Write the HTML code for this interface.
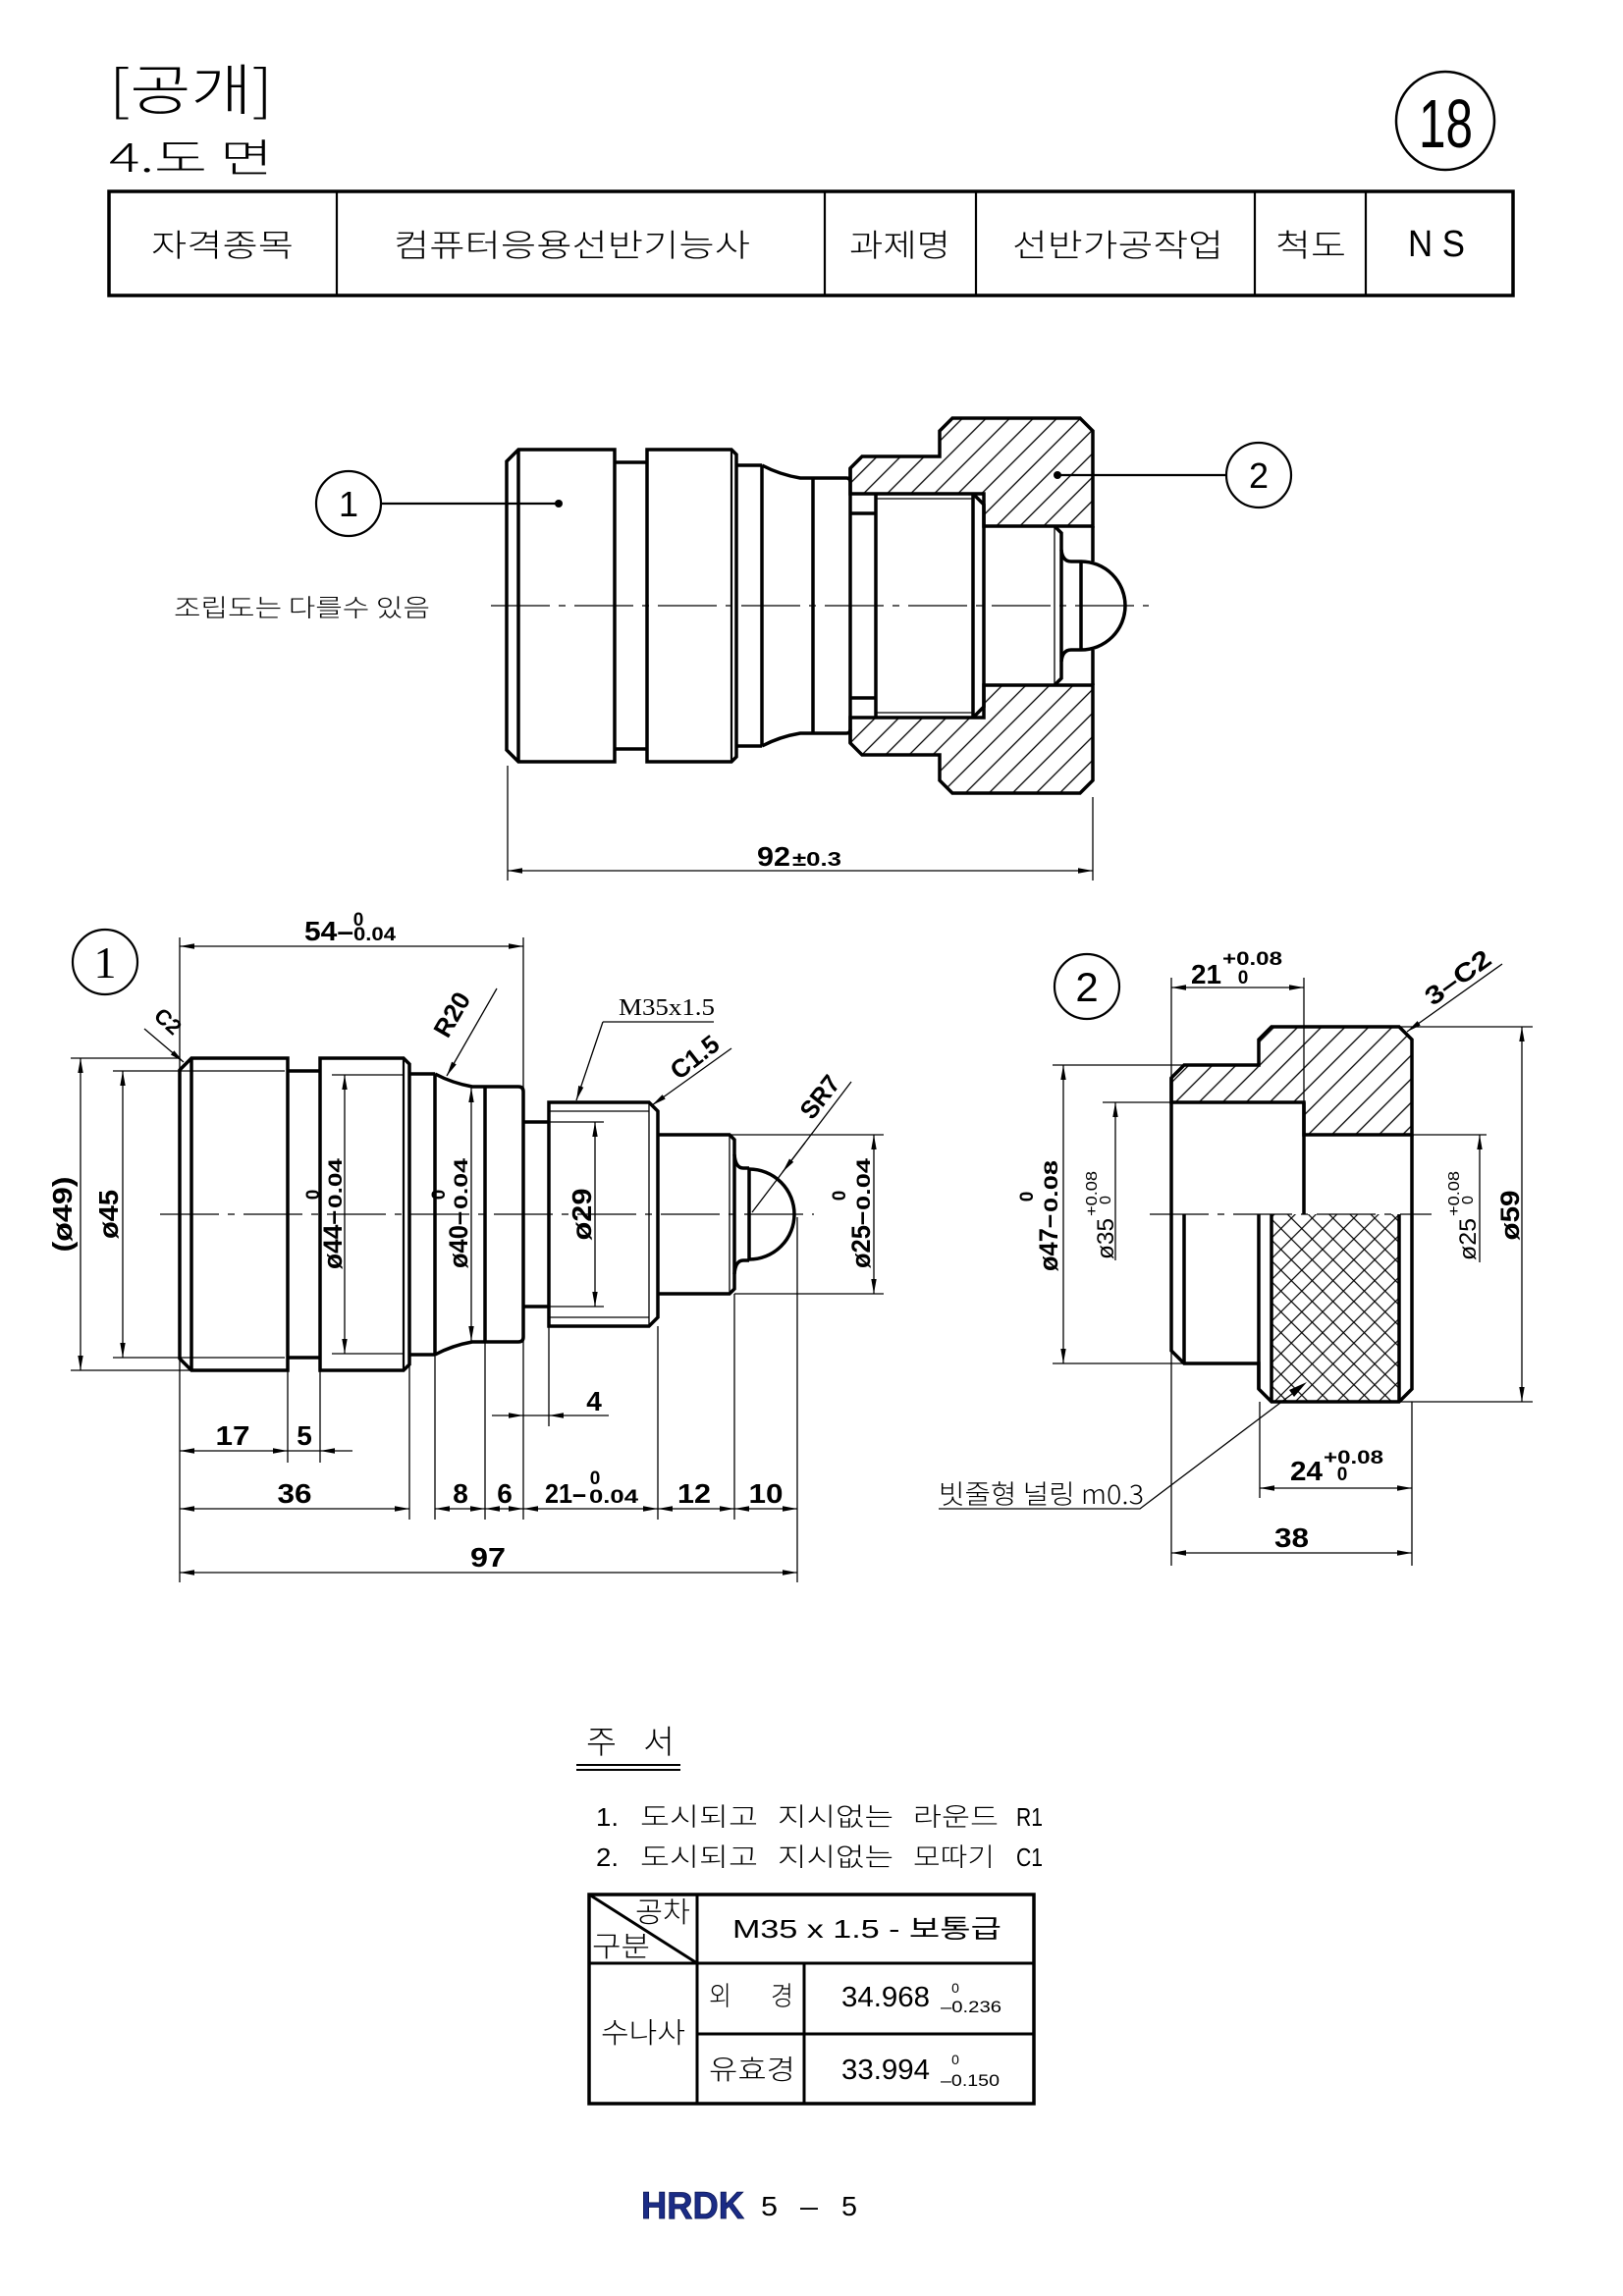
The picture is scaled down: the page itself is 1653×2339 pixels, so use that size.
<!DOCTYPE html>
<html><head><meta charset="utf-8"><style>
html,body{margin:0;padding:0;background:#fff}
svg{display:block}
</style></head><body>
<svg xmlns="http://www.w3.org/2000/svg" width="1653" height="2339" viewBox="0 0 1653 2339">
<defs>
<marker id="a" markerUnits="userSpaceOnUse" markerWidth="16" markerHeight="8" refX="15" refY="4" orient="auto-start-reverse" viewBox="0 0 16 8"><path d="M0,1.3 L15,4 L0,6.7 Z" fill="#000"/></marker>
<pattern id="h" patternUnits="userSpaceOnUse" width="17" height="17" patternTransform="rotate(45)"><line x1="8.5" y1="0" x2="8.5" y2="17" stroke="#000" stroke-width="1.3"/></pattern>
<pattern id="kn" patternUnits="userSpaceOnUse" width="15" height="15" patternTransform="rotate(45)"><line x1="7.5" y1="0" x2="7.5" y2="15" stroke="#000" stroke-width="1.2"/><line x1="0" y1="7.5" x2="15" y2="7.5" stroke="#000" stroke-width="1.2"/></pattern>
</defs>
<style>
.t{fill:none;stroke:#000;stroke-width:3.5}
.th{fill:url(#h);stroke:#000;stroke-width:3.5}
.n{fill:none;stroke:#000;stroke-width:1.3}
.m{fill:none;stroke:#000;stroke-width:2.2}
.d{fill:none;stroke:#000;stroke-width:1.3;marker-start:url(#a);marker-end:url(#a)}
.e{fill:none;stroke:#000;stroke-width:1.3;marker-end:url(#a)}
.c{fill:none;stroke:#000;stroke-width:1.2;stroke-dasharray:60 9 7 9}
text{font-family:"Liberation Sans","Noto Sans CJK KR",sans-serif;fill:#000}
.k{font-family:"Noto Sans CJK KR","Liberation Sans",sans-serif;font-weight:300}
.b{font-weight:bold}
.s{font-family:"Liberation Serif","Noto Serif CJK SC",serif}
</style>
<rect width="1653" height="2339" fill="#fff"/>

<!-- HEADER -->
<text class="k" x="111" y="112" font-size="56" textLength="167" lengthAdjust="spacingAndGlyphs">[공개]</text>
<text class="k" x="111" y="175" font-size="40" textLength="167" lengthAdjust="spacingAndGlyphs">4.도 면</text>
<circle cx="1472" cy="123" r="50" fill="none" stroke="#000" stroke-width="2.5"/>
<text x="1445" y="150" font-size="70" textLength="55" lengthAdjust="spacingAndGlyphs">18</text>
<rect x="111" y="195" width="1430" height="106" class="t"/>
<path class="m" stroke-width="2.5" d="M343,195V301M840,195V301M994,195V301M1278,195V301M1391,195V301"/>
<g font-size="32">
<text class="k" x="154" y="261" textLength="145" lengthAdjust="spacingAndGlyphs">자격종목</text>
<text class="k" x="401" y="261" textLength="363" lengthAdjust="spacingAndGlyphs">컴퓨터응용선반기능사</text>
<text class="k" x="865" y="261" textLength="103" lengthAdjust="spacingAndGlyphs">과제명</text>
<text class="k" x="1031" y="261" textLength="215" lengthAdjust="spacingAndGlyphs">선반가공작업</text>
<text class="k" x="1299" y="261" textLength="72" lengthAdjust="spacingAndGlyphs">척도</text>
</g>
<text x="1434" y="261" font-size="38" textLength="58" lengthAdjust="spacingAndGlyphs">N S</text>

<!-- ASSEMBLY -->
<path class="t" d="M528,458 L626,458 L626,776 L528,776 L516,764 L516,470 Z"/>
<line class="t" x1="528" y1="458" x2="528" y2="776"/>
<path class="t" d="M626,471 H659 M626,763 H659"/>
<path class="t" d="M659,458 H745 L750,463 V771 L745,776 H659 Z"/>
<line class="m" x1="745" y1="458" x2="745" y2="776"/>
<path class="t" d="M750,474 H776 M750,760 H776 M776,474 V760"/>
<path class="t" d="M776,474 A130,130 0 0 0 815,487 H828 M776,760 A130,130 0 0 1 815,747 H828 M828,487 V747"/>
<path class="t" d="M828,487 H862 Q866,487 866,491 M828,747 H862 Q866,747 866,743"/>
<path class="th" d="M866,477 L878,465 H957 V439 L970,426 H1100 L1113,439 V536 H1002 V503 H866 Z"/>
<path class="th" d="M866,757 L878,769 H957 V795 L970,808 H1100 L1113,795 V698 H1002 V731 H866 Z"/>
<path class="t" d="M866,477 V757"/>
<path class="t" d="M866,523 H892 M866,711 H892 M892,503 V731"/>
<path class="n" d="M892,508 H991 M892,726 H991"/>
<path class="t" d="M991,503 V731 M991,503 L1002,514 V720 L991,731"/>
<path class="n" d="M1074,536 V698"/>
<path class="t" d="M1074,536 L1081,543 V691 L1074,698"/>
<path class="t" d="M1081,560 Q1082,572 1091,572 H1101 M1081,674 Q1082,662 1091,662 H1101"/>
<path class="t" d="M1101,572 V662 M1101,572 A45,45 0 0 1 1101,662"/>
<path class="t" d="M1113,536 V572 M1113,662 V698"/>
<line class="c" x1="500" y1="617" x2="1170" y2="617"/>
<circle cx="355" cy="513" r="33" class="m"/>
<text x="355" y="526" font-size="36" text-anchor="middle">1</text>
<line class="m" x1="388" y1="513" x2="569" y2="513"/>
<circle cx="569" cy="513" r="4" fill="#000"/>
<circle cx="1282" cy="484" r="33" class="m"/>
<text x="1282" y="497" font-size="36" text-anchor="middle">2</text>
<line class="m" x1="1077" y1="484" x2="1249" y2="484"/>
<circle cx="1077" cy="484" r="4" fill="#000"/>
<text class="k" x="177" y="628" font-size="25" textLength="261" lengthAdjust="spacingAndGlyphs">조립도는 다를수 있음</text>
<line class="n" x1="517" y1="780" x2="517" y2="897"/>
<line class="n" x1="1113" y1="812" x2="1113" y2="897"/>
<line class="d" x1="517" y1="887" x2="1113" y2="887"/>
<text class="b" x="771" y="882" font-size="28" textLength="34" lengthAdjust="spacingAndGlyphs">92</text>
<text class="b" x="807" y="882" font-size="20" textLength="50" lengthAdjust="spacingAndGlyphs">±0.3</text>

<!-- PART 1 -->
<circle cx="107" cy="980" r="33" class="m"/>
<text class="s" x="107" y="996" font-size="46" text-anchor="middle">1</text>
<path class="t" d="M195,1078 L293,1078 L293,1396 L195,1396 L183,1384 L183,1090 Z"/>
<line class="t" x1="195" y1="1078" x2="195" y2="1396"/>
<path class="t" d="M293,1091 H326 M293,1383 H326"/>
<path class="t" d="M326,1078 H411 L417,1084 V1390 L411,1396 H326 Z"/>
<line class="m" x1="411" y1="1078" x2="411" y2="1396"/>
<path class="t" d="M417,1094 H443 M417,1380 H443 M443,1094 V1380"/>
<path class="t" d="M443,1094 A130,130 0 0 0 481,1107 H494 M443,1380 A130,130 0 0 1 481,1367 H494 M494,1107 V1367"/>
<path class="t" d="M494,1107 H528 Q533,1107 533,1112 V1362 Q533,1367 528,1367 H494"/>
<path class="t" d="M533,1143 H559 M533,1331 H559"/>
<path class="t" d="M559,1123 H661 L670,1132 V1342 L661,1351 H559 Z"/>
<path class="n" d="M559,1132 H661 M559,1342 H661 M661,1123 V1351"/>
<path class="t" d="M670,1156 H743 L748,1161 V1313 L743,1318 H670"/>
<line class="n" x1="743" y1="1156" x2="743" y2="1318"/>
<path class="t" d="M748,1176 Q749,1190 757,1190 H763 M748,1298 Q749,1284 757,1284 H763"/>
<path class="t" d="M763,1191 V1283 M763,1191 A46,46 0 1 1 763,1283"/>
<line class="c" x1="163" y1="1237" x2="829" y2="1237"/>
<!-- part1 dims -->
<path class="n" d="M72,1078 H183 M72,1396 H195 M115,1091 H290 M115,1383 H290 M338,1095 H411 M338,1379 H411 M559,1143 H615 M559,1331 H615 M743,1156 H900 M748,1318 H900"/>
<line class="d" x1="82" y1="1078" x2="82" y2="1396"/>
<line class="d" x1="125" y1="1091" x2="125" y2="1383"/>
<line class="d" x1="351" y1="1095" x2="351" y2="1379"/>
<line class="d" x1="480" y1="1108" x2="480" y2="1366"/>
<line class="d" x1="606" y1="1143" x2="606" y2="1331"/>
<line class="d" x1="890" y1="1156" x2="890" y2="1318"/>
<text class="b" font-size="28" text-anchor="middle" textLength="77" lengthAdjust="spacingAndGlyphs" transform="translate(73,1237) rotate(-90)">(ø49)</text>
<text class="b" font-size="28" text-anchor="middle" textLength="50" lengthAdjust="spacingAndGlyphs" transform="translate(120,1237) rotate(-90)">ø45</text>
<text class="b" font-size="28" text-anchor="middle" textLength="53" lengthAdjust="spacingAndGlyphs" transform="translate(602,1237) rotate(-90)">ø29</text>
<g transform="translate(348,1237) rotate(-90)">
<text class="b" x="-56" y="0" font-size="27" textLength="60" lengthAdjust="spacingAndGlyphs">ø44–</text>
<text class="b" x="6" y="0" font-size="19" textLength="51" lengthAdjust="spacingAndGlyphs">0.04</text>
<text class="b" x="20" y="-23" font-size="19" text-anchor="middle">0</text>
</g>
<g transform="translate(476,1237) rotate(-90)">
<text class="b" x="-55" y="0" font-size="27" textLength="58" lengthAdjust="spacingAndGlyphs">ø40–</text>
<text class="b" x="5" y="0" font-size="19" textLength="52" lengthAdjust="spacingAndGlyphs">0.04</text>
<text class="b" x="20" y="-23" font-size="19" text-anchor="middle">0</text>
</g>
<g transform="translate(886,1237) rotate(-90)">
<text class="b" x="-55" y="0" font-size="27" textLength="58" lengthAdjust="spacingAndGlyphs">ø25–</text>
<text class="b" x="4" y="0" font-size="19" textLength="53" lengthAdjust="spacingAndGlyphs">0.04</text>
<text class="b" x="19" y="-25" font-size="19" text-anchor="middle">0</text>
</g>
<!-- 54 -->
<path class="n" d="M183,955 V1612 M533,955 V1548"/>
<line class="d" x1="183" y1="964" x2="533" y2="964"/>
<text class="b" x="310" y="958" font-size="28" textLength="50" lengthAdjust="spacingAndGlyphs">54–</text>
<text class="b" x="360" y="958" font-size="19" textLength="43" lengthAdjust="spacingAndGlyphs">0.04</text>
<text class="b" x="365" y="943" font-size="19" text-anchor="middle">0</text>
<!-- C2 -->
<line class="e" x1="147" y1="1048" x2="187" y2="1082"/>
<text class="b" font-size="22" text-anchor="middle" transform="translate(166,1046) rotate(42)">C2</text>
<!-- R20 -->
<line class="e" x1="506" y1="1007" x2="455" y2="1096"/>
<text class="b" font-size="26" text-anchor="middle" textLength="48" lengthAdjust="spacingAndGlyphs" transform="translate(468,1038) rotate(-60)">R20</text>
<!-- M35 -->
<text class="s" x="630" y="1034" font-size="24" textLength="98" lengthAdjust="spacingAndGlyphs">M35x1.5</text>
<path class="n" d="M727,1041 H614"/>
<line class="e" x1="614" y1="1041" x2="587" y2="1121"/>
<!-- C1.5 -->
<line class="e" x1="745" y1="1068" x2="664" y2="1126"/>
<text class="b" font-size="26" text-anchor="middle" textLength="55" lengthAdjust="spacingAndGlyphs" transform="translate(713,1084) rotate(-38)">C1.5</text>
<!-- SR7 -->
<line class="n" x1="867" y1="1102" x2="766" y2="1235"/>
<line class="e" x1="820" y1="1164" x2="797" y2="1194"/>
<text class="b" font-size="26" text-anchor="middle" textLength="48" lengthAdjust="spacingAndGlyphs" transform="translate(842,1123) rotate(-52)">SR7</text>
<!-- lower dims part1 -->
<path class="n" d="M293,1396 V1490 M326,1396 V1490 M417,1390 V1548 M443,1380 V1548 M494,1367 V1548 M559,1331 V1453 M670,1351 V1548 M748,1318 V1548 M812,1240 V1612"/>
<line class="d" x1="183" y1="1478" x2="293" y2="1478"/>
<line class="n" x1="293" y1="1478" x2="326" y2="1478"/>
<line class="e" x1="359" y1="1478" x2="326" y2="1478"/>
<text class="b" x="237" y="1472" font-size="28" text-anchor="middle" textLength="35" lengthAdjust="spacingAndGlyphs">17</text>
<text class="b" x="310" y="1472" font-size="28" text-anchor="middle">5</text>
<line class="e" x1="501" y1="1442" x2="533" y2="1442"/>
<line class="n" x1="533" y1="1442" x2="559" y2="1442"/>
<line class="e" x1="620" y1="1442" x2="559" y2="1442"/>
<text class="b" x="605" y="1437" font-size="28" text-anchor="middle">4</text>
<line class="d" x1="183" y1="1537" x2="417" y2="1537"/>
<line class="d" x1="443" y1="1537" x2="494" y2="1537"/>
<line class="d" x1="494" y1="1537" x2="533" y2="1537"/>
<line class="d" x1="533" y1="1537" x2="670" y2="1537"/>
<line class="d" x1="670" y1="1537" x2="748" y2="1537"/>
<line class="d" x1="748" y1="1537" x2="812" y2="1537"/>
<text class="b" x="300" y="1531" font-size="28" text-anchor="middle" textLength="35" lengthAdjust="spacingAndGlyphs">36</text>
<text class="b" x="469" y="1531" font-size="28" text-anchor="middle">8</text>
<text class="b" x="514" y="1531" font-size="28" text-anchor="middle">6</text>
<text class="b" x="555" y="1531" font-size="28" textLength="42" lengthAdjust="spacingAndGlyphs">21–</text>
<text class="b" x="600" y="1531" font-size="19" textLength="50" lengthAdjust="spacingAndGlyphs">0.04</text>
<text class="b" x="606" y="1512" font-size="19" text-anchor="middle">0</text>
<text class="b" x="707" y="1531" font-size="28" text-anchor="middle" textLength="34" lengthAdjust="spacingAndGlyphs">12</text>
<text class="b" x="780" y="1531" font-size="28" text-anchor="middle" textLength="35" lengthAdjust="spacingAndGlyphs">10</text>
<line class="d" x1="183" y1="1602" x2="812" y2="1602"/>
<text class="b" x="497" y="1596" font-size="28" text-anchor="middle" textLength="36" lengthAdjust="spacingAndGlyphs">97</text>

<!-- PART 2 -->
<circle cx="1107" cy="1005" r="33" class="m"/>
<text x="1107" y="1020" font-size="42" text-anchor="middle">2</text>
<rect x="1295" y="1237" width="130" height="191" fill="url(#kn)"/>
<path class="th" d="M1193,1098 L1206,1085 H1282 V1059 L1295,1046 H1425 L1438,1059 V1156 H1328 V1123 H1193 Z"/>
<path class="t" d="M1193,1098 V1376 L1206,1389 H1282 V1415 L1295,1428 H1425 L1438,1415 V1156"/>
<path class="t" d="M1328,1123 V1237 M1206,1237 V1389 M1282,1237 V1415 M1295,1237 V1428 M1425,1237 V1428"/>
<line class="c" x1="1171" y1="1237" x2="1458" y2="1237"/>
<!-- part2 dims -->
<path class="n" d="M1193,996 V1595 M1328,996 V1123 M1072,1085 H1206 M1072,1389 H1206 M1123,1123 H1193 M1438,1156 H1514 M1425,1046 H1561 M1425,1428 H1561 M1283,1428 V1526 M1438,1428 V1595"/>
<line class="d" x1="1193" y1="1006" x2="1328" y2="1006"/>
<text class="b" x="1213" y="1002" font-size="28" textLength="31" lengthAdjust="spacingAndGlyphs">21</text>
<text class="b" x="1245" y="983" font-size="19" textLength="61" lengthAdjust="spacingAndGlyphs">+0.08</text>
<text class="b" x="1266" y="1002" font-size="19" text-anchor="middle">0</text>
<line class="e" x1="1530" y1="982" x2="1433" y2="1051"/>
<text class="b" font-size="26" text-anchor="middle" textLength="76" lengthAdjust="spacingAndGlyphs" transform="translate(1490,1003) rotate(-36)">3–C2</text>
<line class="d" x1="1083" y1="1085" x2="1083" y2="1389"/>
<g transform="translate(1077,1237) rotate(-90)">
<text class="b" x="-58" y="0" font-size="27" textLength="58" lengthAdjust="spacingAndGlyphs">ø47–</text>
<text class="b" x="2" y="0" font-size="19" textLength="53" lengthAdjust="spacingAndGlyphs">0.08</text>
<text class="b" x="18" y="-25" font-size="19" text-anchor="middle">0</text>
</g>
<line class="e" x1="1136" y1="1284" x2="1136" y2="1123"/>
<g transform="translate(1134,1237) rotate(-90)">
<text x="-46" y="0" font-size="24" textLength="42" lengthAdjust="spacingAndGlyphs">ø35</text>
<text x="-2" y="-17" font-size="16" textLength="46" lengthAdjust="spacingAndGlyphs">+0.08</text>
<text x="10" y="-3" font-size="16">0</text>
</g>
<line class="e" x1="1507" y1="1286" x2="1507" y2="1156"/>
<g transform="translate(1503,1237) rotate(-90)">
<text x="-47" y="0" font-size="24" textLength="43" lengthAdjust="spacingAndGlyphs">ø25</text>
<text x="-2" y="-17" font-size="16" textLength="46" lengthAdjust="spacingAndGlyphs">+0.08</text>
<text x="10" y="-3" font-size="16">0</text>
</g>
<line class="d" x1="1550" y1="1046" x2="1550" y2="1428"/>
<text class="b" font-size="27" text-anchor="middle" textLength="51" lengthAdjust="spacingAndGlyphs" transform="translate(1547,1238) rotate(-90)">ø59</text>
<!-- knurl leader -->
<path class="n" d="M956,1537 H1161 L1320,1417"/>
<path d="M1331,1408 L1313,1416 L1318,1423 Z" fill="#000"/>
<text class="k" x="956" y="1532" font-size="27" textLength="209" lengthAdjust="spacingAndGlyphs">빗줄형 널링 m0.3</text>
<line class="d" x1="1283" y1="1516" x2="1438" y2="1516"/>
<text class="b" x="1314" y="1508" font-size="28" textLength="33" lengthAdjust="spacingAndGlyphs">24</text>
<text class="b" x="1348" y="1491" font-size="19" textLength="61" lengthAdjust="spacingAndGlyphs">+0.08</text>
<text class="b" x="1367" y="1508" font-size="19" text-anchor="middle">0</text>
<line class="d" x1="1193" y1="1582" x2="1438" y2="1582"/>
<text class="b" x="1298" y="1576" font-size="28" textLength="35" lengthAdjust="spacingAndGlyphs">38</text>

<!-- NOTES -->
<text class="k" x="597" y="1786" font-size="33" textLength="31" lengthAdjust="spacingAndGlyphs">주</text>
<text class="k" x="655" y="1786" font-size="33" textLength="32" lengthAdjust="spacingAndGlyphs">서</text>
<path d="M587,1798 H693 M587,1803 H693" stroke="#000" stroke-width="2"/>
<g font-size="26">
<text x="607" y="1860" textLength="23" lengthAdjust="spacingAndGlyphs">1.</text>
<text class="k" x="652" y="1860" textLength="120" lengthAdjust="spacingAndGlyphs">도시되고</text>
<text class="k" x="792" y="1860" textLength="118" lengthAdjust="spacingAndGlyphs">지시없는</text>
<text class="k" x="930" y="1860" textLength="87" lengthAdjust="spacingAndGlyphs">라운드</text>
<text x="1035" y="1860" textLength="27" lengthAdjust="spacingAndGlyphs">R1</text>
<text x="607" y="1901" textLength="23" lengthAdjust="spacingAndGlyphs">2.</text>
<text class="k" x="652" y="1901" textLength="120" lengthAdjust="spacingAndGlyphs">도시되고</text>
<text class="k" x="792" y="1901" textLength="118" lengthAdjust="spacingAndGlyphs">지시없는</text>
<text class="k" x="930" y="1901" textLength="83" lengthAdjust="spacingAndGlyphs">모따기</text>
<text x="1035" y="1901" textLength="27" lengthAdjust="spacingAndGlyphs">C1</text>
</g>
<rect x="600" y="1930" width="453" height="213" class="t" stroke-width="3"/>
<path d="M600,2000 H1053 M710,2072 H1053 M710,1930 V2143 M819,2000 V2143 M600,1930 L710,2000" stroke="#000" stroke-width="3" fill="none"/>
<text class="k" x="647" y="1958" font-size="29" textLength="56" lengthAdjust="spacingAndGlyphs">공차</text>
<text class="k" x="603" y="1993" font-size="29" textLength="59" lengthAdjust="spacingAndGlyphs">구분</text>
<text x="746" y="1974" font-size="26" textLength="274" lengthAdjust="spacingAndGlyphs">M35 x 1.5 - 보통급</text>
<text class="k" x="612" y="2081" font-size="29" textLength="86" lengthAdjust="spacingAndGlyphs">수나사</text>
<text class="k" x="722" y="2043" font-size="27" textLength="23" lengthAdjust="spacingAndGlyphs">외</text>
<text class="k" x="785" y="2043" font-size="27" textLength="23" lengthAdjust="spacingAndGlyphs">경</text>
<text x="857" y="2044" font-size="29" textLength="90" lengthAdjust="spacingAndGlyphs">34.968</text>
<text x="973" y="2030" font-size="14" text-anchor="middle">0</text>
<text x="958" y="2050" font-size="17" textLength="62" lengthAdjust="spacingAndGlyphs">–0.236</text>
<text class="k" x="722" y="2118" font-size="28" textLength="88" lengthAdjust="spacingAndGlyphs">유효경</text>
<text x="857" y="2118" font-size="29" textLength="90" lengthAdjust="spacingAndGlyphs">33.994</text>
<text x="973" y="2103" font-size="14" text-anchor="middle">0</text>
<text x="958" y="2125" font-size="17" textLength="60" lengthAdjust="spacingAndGlyphs">–0.150</text>

<!-- FOOTER -->
<text class="b" x="653" y="2260" font-size="39" style="fill:#1b2c86" stroke="#0a1450" stroke-width="0.8" textLength="105" lengthAdjust="spacingAndGlyphs">HRDK</text>
<text x="775" y="2257" font-size="28" textLength="17" lengthAdjust="spacingAndGlyphs">5</text>
<text x="815" y="2257" font-size="28" textLength="18" lengthAdjust="spacingAndGlyphs">–</text>
<text x="857" y="2257" font-size="28" textLength="16" lengthAdjust="spacingAndGlyphs">5</text>
</svg>
</body></html>
